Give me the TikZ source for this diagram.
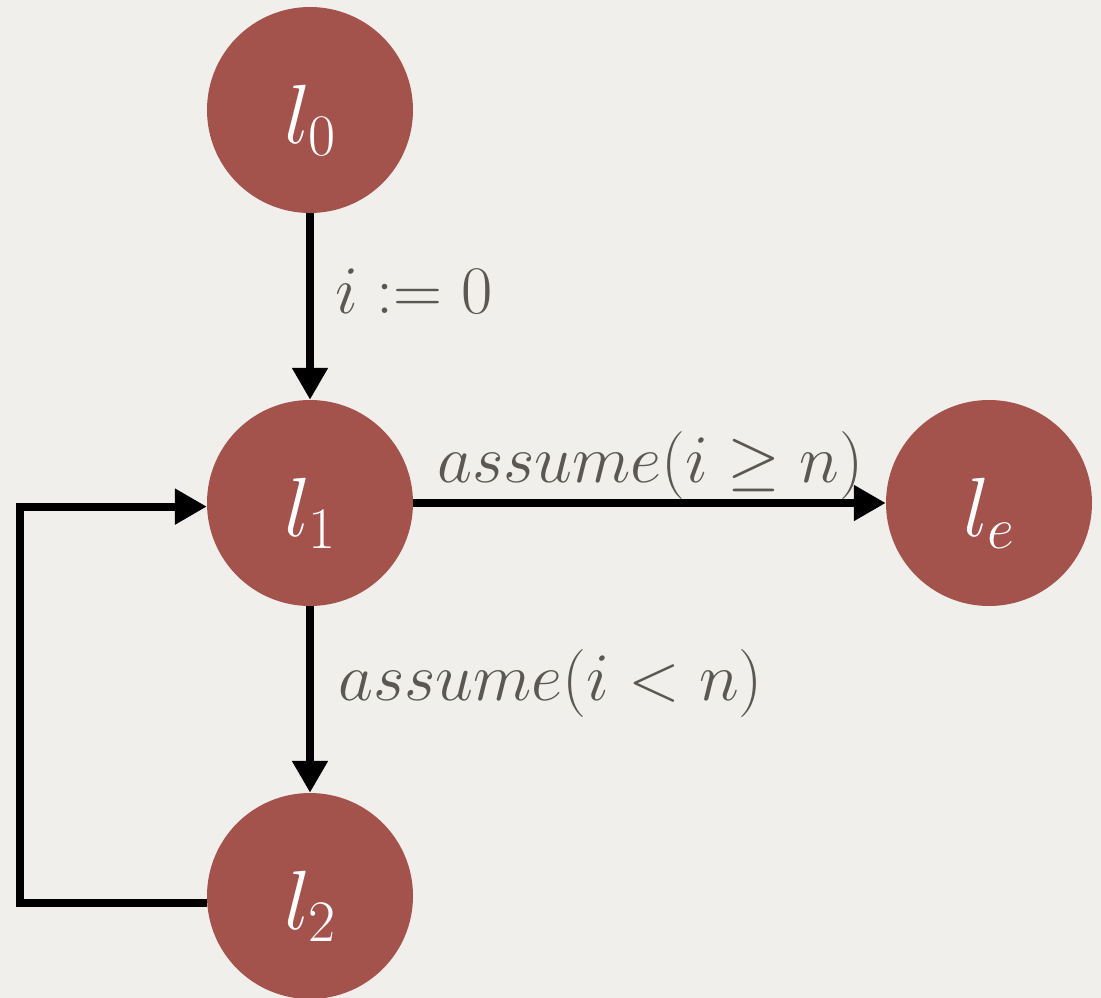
\RequirePackage{fix-cm}
\documentclass[tikz,border=0pt]{standalone}
\usetikzlibrary{arrows.meta}
\definecolor{nodered}{HTML}{A4524C}
\definecolor{bgcol}{HTML}{F0EFEB}
\definecolor{labelgray}{HTML}{5B5853}
\begin{document}
\begin{tikzpicture}[x=1pt,y=-1pt,
  state/.style={circle, fill=nodered, minimum size=206pt, inner sep=0pt,
    text=white, text height=66pt, text depth=0pt,
    font=\fontsize{84}{84}\selectfont},
  edge/.style={line width=8pt, -{Triangle[length=32pt,width=34pt]}},
  elabel/.style={text=labelgray, font=\fontsize{68}{68}\selectfont,
    inner sep=0pt, anchor=base west}]
\fill[bgcol] (0,0) rectangle (1101,998);
\useasboundingbox (0,0) rectangle (1101,998);
\node[state] (l0) at (310,110) {$l_0$};
\node[state] (l1) at (310,503) {$l_1$};
\node[state] (l2) at (310,896) {$l_2$};
\node[state] (le) at (989,503) {$l_e$};
\draw[edge] (l0) -- (l1);
\draw[edge] (l1) -- (le);
\draw[edge] (l1) -- (l2);
\draw[edge] (l2.184) -- ++(-187,0) |- (l1.182);
\node[elabel] (lab0) at (335,313) {$i := 0$};
\node[elabel] (lab1) at (437,482) {$assume(i \geq n)$};
\node[elabel] (lab2) at (338,700) {$assume(i < n)$};
\end{tikzpicture}
\end{document}
